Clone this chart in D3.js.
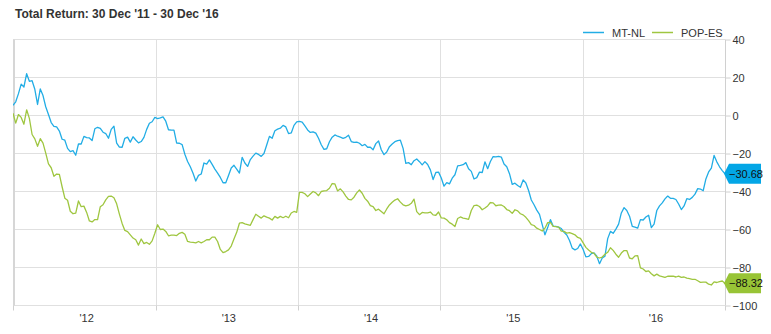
<!DOCTYPE html>
<html><head><meta charset="utf-8">
<script src="https://cdn.jsdelivr.net/npm/d3@7"></script>
<style>
body{margin:0;background:#fff;}
svg{display:block;font-family:"Liberation Sans",Arial,sans-serif;}
</style></head><body>
<svg id="chart" width="771" height="334"></svg>
<script>
const title = "Total Return: 30 Dec '11 - 30 Dec '16";
const seriesNames = ["MT-NL", "POP-ES"];
const startDate = "2011-12-30";
const endDate = "2016-12-30";
const stepDays = 7; // weekly observations
const mtnl = [
5.4,7.2,11.5,16.5,15,22,18,18.3,13.8,5.8,14,10.5,4.6,0.5,-3.7,-5.7,-6,-8.2,-12.5,-13,-17.3,-19,-18.5,-20.9,-15,-15,-11,-11.6,-11.8,-13.2,-7,-6.2,-6.8,-8.8,-9.5,-12,-7.3,-5.6,-14.5,-16.6,-16.7,-12,-11.4,-14,-11.2,-12.9,-14.4,-13.7,-11.5,-7.3,-4.1,-3.3,-1,-1.6,-1.3,
-0.7,-3,-7.5,-7.7,-7.7,-14.5,-14.6,-15.3,-20.4,-24.2,-27,-30.4,-34.5,-31.5,-30.8,-25,-25.6,-23.4,-25.7,-28.2,-30.3,-32.6,-35.4,-35.4,-31.6,-27.6,-26.2,-28.2,-30.3,-22,-25,-26.8,-23.2,-21.4,-19.8,-20.5,-21.5,-20,-15.5,-11,-12,-8,-7.2,-6.7,-5.2,-6,-9.5,-9.2,-5.2,-3.4,-3.1,-3.5,-5.5,-7.6,
-8.9,-8.6,-9.3,-12,-15.4,-17.8,-17.5,-13.8,-11.4,-10.2,-10.9,-11.4,-12,-11.5,-10.4,-13.7,-14.2,-14,-14.6,-15.9,-15.2,-16.7,-16.7,-18,-14.8,-13.4,-18,-20.6,-19.2,-16.4,-15,-13.8,-13.2,-13,-17.3,-25.2,-24.8,-25.9,-23.8,-22.9,-24.3,-26,-24.3,-25.8,-28.6,-33.7,-30,-29.8,-32.9,-37.2,-35.3,-36,-33,-31.2,
-26.5,-26.3,-25.9,-24.8,-28,-29.4,-33.4,-32.7,-29.8,-30,-24.4,-28,-24.2,-21.6,-21.8,-21.5,-21.9,-25.5,-27,-30.6,-36.2,-35.6,-36.8,-37.8,-33.9,-35.5,-39.5,-44.5,-47,-49.8,-52,-57.4,-62.8,-59,-54.8,-58.2,-58.4,-58.7,-59.5,-61.5,-62.9,-65.8,-69.8,-70.7,-70,-67.6,-70.5,-74.4,-74.2,-72.7,-72.3,-74,-78,
-75,-74,-64.8,-61,-62,-59.8,-57.2,-51.3,-48.5,-50,-53,-58.3,-58.7,-59.3,-54.8,-55,-53.4,-52.5,-59,-57.2,-50,-47.6,-46,-43.9,-42.4,-43.6,-43.6,-44.2,-46.6,-49.5,-47.6,-43.8,-44.2,-43.1,-41.4,-38.5,-38.7,-39.6,-33.4,-29.7,-27.7,-21,-24.4,-27,-29,-30.68
];
const popes = [
1.2,-4,0.5,-1,-4.6,3,-1.5,-10,-12.3,-16.2,-12.2,-14.5,-19.8,-25.5,-27.5,-32,-30.8,-31,-37.5,-43.5,-44.6,-50.4,-51.7,-51.4,-45,-48,-47.7,-51,-55.5,-56,-54.8,-54.8,-48,-47,-44.4,-42.6,-42.4,-43.3,-46.5,-51.9,-56.8,-60.5,-61.1,-62.8,-64.5,-65.4,-68.2,-65,-67.4,-66.8,-67.8,-66,-62,-57.5,-60,
-59.8,-61,-63.3,-63,-63,-63.2,-62,-61.5,-62.5,-66.3,-66.6,-66.8,-67,-66.3,-67,-66.3,-65.4,-65.4,-64,-64,-66.3,-70.5,-72.2,-71.6,-70.7,-68.7,-65,-61.5,-56.7,-56.4,-57,-57.4,-57.8,-54.8,-52,-53,-54,-52.8,-53.5,-54,-55,-53.1,-54,-53.1,-53.8,-53,-53.8,-51.3,-50.5,-51,-40.5,-40.5,-41.2,-42.7,
-41.3,-40,-40.7,-42.2,-40,-39.7,-39.5,-38.3,-35.8,-36,-39.7,-38.6,-40.2,-42.4,-44.2,-44.4,-43,-40.7,-39.2,-40.9,-43.6,-45.1,-47.4,-48,-50,-49.3,-50.5,-51.7,-49.2,-47.1,-45.7,-44.5,-43.8,-45.6,-47,-47.6,-47.2,-46.2,-44,-50.6,-52.2,-51,-51.2,-51.2,-50.8,-52.3,-52.5,-50.8,-53.9,-54,-54.9,-56.4,-57.2,-58.4,
-54.2,-53.4,-54,-54.3,-54.7,-50,-47.4,-47.2,-47.9,-49.6,-48.7,-47.6,-45.8,-46,-47.5,-47.2,-47.1,-47.9,-49.5,-50.1,-51.5,-49.6,-50.2,-51.7,-52.3,-53.6,-55.3,-57.4,-57.9,-59.3,-60,-60.8,-59.3,-56.4,-56.3,-58.3,-58.5,-58.7,-60.9,-61,-61.9,-61.7,-62.2,-62.8,-64.2,-64.7,-67,-69.4,-70.8,-72,-72.6,-74.5,-75,
-74.5,-73,-72,-69.6,-71,-73,-74.6,-72.4,-71.1,-71.1,-75,-75.4,-73.9,-73.8,-80.2,-80.8,-82.1,-81.8,-83.3,-84.4,-83.5,-84.4,-84.8,-85.2,-84.6,-84.5,-84.6,-85,-84.5,-85.2,-85,-85.6,-85.9,-86.2,-86.2,-87,-87.8,-87.7,-87.7,-88.8,-89.2,-87.6,-87.9,-87.4,-87.1,-88.32
];
const yTicks = [40, 20, 0, -20, -40, -60, -80, -100];
const yearStarts = ["2013-01-01", "2014-01-01", "2015-01-01", "2016-01-01"];
const yearMids = ["2012-07-02", "2013-07-02", "2014-07-02", "2015-07-02", "2016-07-02"];
const xLabels = ["'12", "'13", "'14", "'15", "'16"];
const colors = ["#22ade5", "#9fc640"];
const badgeColors = ["#03a6e6", "#98c436"];

(function () {
const parse = d3.utcParse("%Y-%m-%d");
const t0 = parse(startDate), t1 = parse(endDate);
const dates = mtnl.map((_, i) => d3.utcDay.offset(t0, i * stepDays));
const series = [mtnl, popes].map((vals, k) => ({
  name: seriesNames[k], color: colors[k], badge: badgeColors[k],
  points: vals.map((v, i) => ({date: dates[i], value: v}))
}));

const svg = d3.select("#chart");
const pLeft = 13, pRight = 725, pTop = 39.5, pBottom = 305.5;
const x = d3.scaleUtc().domain([t0, t1]).range([pLeft, pRight]);
const y = d3.scaleLinear().domain([-100, 40]).range([pBottom, pTop]);
const crisp = v => Math.round(v - 0.5) + 0.5;

svg.append("text").attr("x", 15).attr("y", 18).attr("font-size", 12).attr("font-weight", "bold")
  .attr("fill", "#333").text(title);

svg.append("g").selectAll("line").data(yTicks).join("line")
  .attr("x1", pLeft).attr("x2", pRight).attr("y1", d => crisp(y(d))).attr("y2", d => crisp(y(d)))
  .attr("stroke", "#e0e0e0").attr("stroke-width", 1);

svg.append("g").selectAll("line").data(yearStarts.map(parse)).join("line")
  .attr("x1", d => crisp(x(d))).attr("x2", d => crisp(x(d))).attr("y1", pTop).attr("y2", pBottom)
  .attr("stroke", "#e0e0e0");
svg.append("line").attr("x1", 14).attr("x2", 14).attr("y1", pTop).attr("y2", pBottom)
  .attr("stroke", "#d6d6d6").attr("stroke-width", 2);

const yAxis = d3.axisRight(y).tickValues(yTicks).tickSize(5).tickPadding(2).tickFormat(d3.format("d"));
const gy = svg.append("g").attr("transform", `translate(${crisp(pRight)},0)`).call(yAxis);
gy.select(".domain").attr("stroke", "#d0d0d0").attr("d", `M0,${pTop}V${pBottom}`);
gy.selectAll(".tick line").attr("stroke", "#d0d0d0");
gy.selectAll(".tick text").attr("fill", "#333").attr("font-size", 11)
  .attr("font-family", '"Liberation Sans",Arial,sans-serif');

svg.append("g").selectAll("line").data([t0, ...yearStarts.map(parse), t1]).join("line")
  .attr("x1", d => crisp(x(d))).attr("x2", d => crisp(x(d))).attr("y1", pBottom).attr("y2", pBottom + 5)
  .attr("stroke", "#d0d0d0");
svg.append("g").selectAll("text").data(yearMids.map(parse)).join("text")
  .attr("x", d => x(d) + 1.5).attr("y", 322).attr("text-anchor", "middle")
  .attr("font-size", 11).attr("fill", "#333").text((d, i) => xLabels[i]);

svg.append("defs").append("clipPath").attr("id", "clip").append("rect")
  .attr("x", pLeft).attr("y", pTop - 2).attr("width", pRight - pLeft).attr("height", pBottom - pTop + 4);
const line = d3.line().x(d => x(d.date)).y(d => y(d.value));
svg.append("g").attr("clip-path", "url(#clip)").selectAll("path").data(series).join("path")
  .attr("d", d => line(d.points)).attr("fill", "none").attr("stroke", d => d.color)
  .attr("stroke-width", 1.3).attr("stroke-linejoin", "round");

series.forEach(s => {
  const last = s.points[s.points.length - 1];
  const yc = y(last.value);
  const g = svg.append("g");
  g.append("path").attr("d", `M${pRight - 1},${yc} L${pRight + 4},${yc - 10} H761 V${yc + 10} H${pRight + 4} Z`)
    .attr("fill", s.badge);
  g.append("text").attr("x", 729).attr("y", yc).attr("dy", "0.35em").attr("font-size", 11)
    .attr("fill", "#111").text(d3.format(".2f")(last.value));
});

const legend = [{name: seriesNames[0], color: colors[0], x: 583}, {name: seriesNames[1], color: colors[1], x: 652}];
legend.forEach(l => {
  svg.append("line").attr("x1", l.x).attr("x2", l.x + 21).attr("y1", 32.5).attr("y2", 32.5)
    .attr("stroke", l.color).attr("stroke-width", 1.5);
  svg.append("text").attr("x", l.x + 29).attr("y", 36.5).attr("font-size", 11).attr("fill", "#333").text(l.name);
});
})();
</script>
</body></html>
